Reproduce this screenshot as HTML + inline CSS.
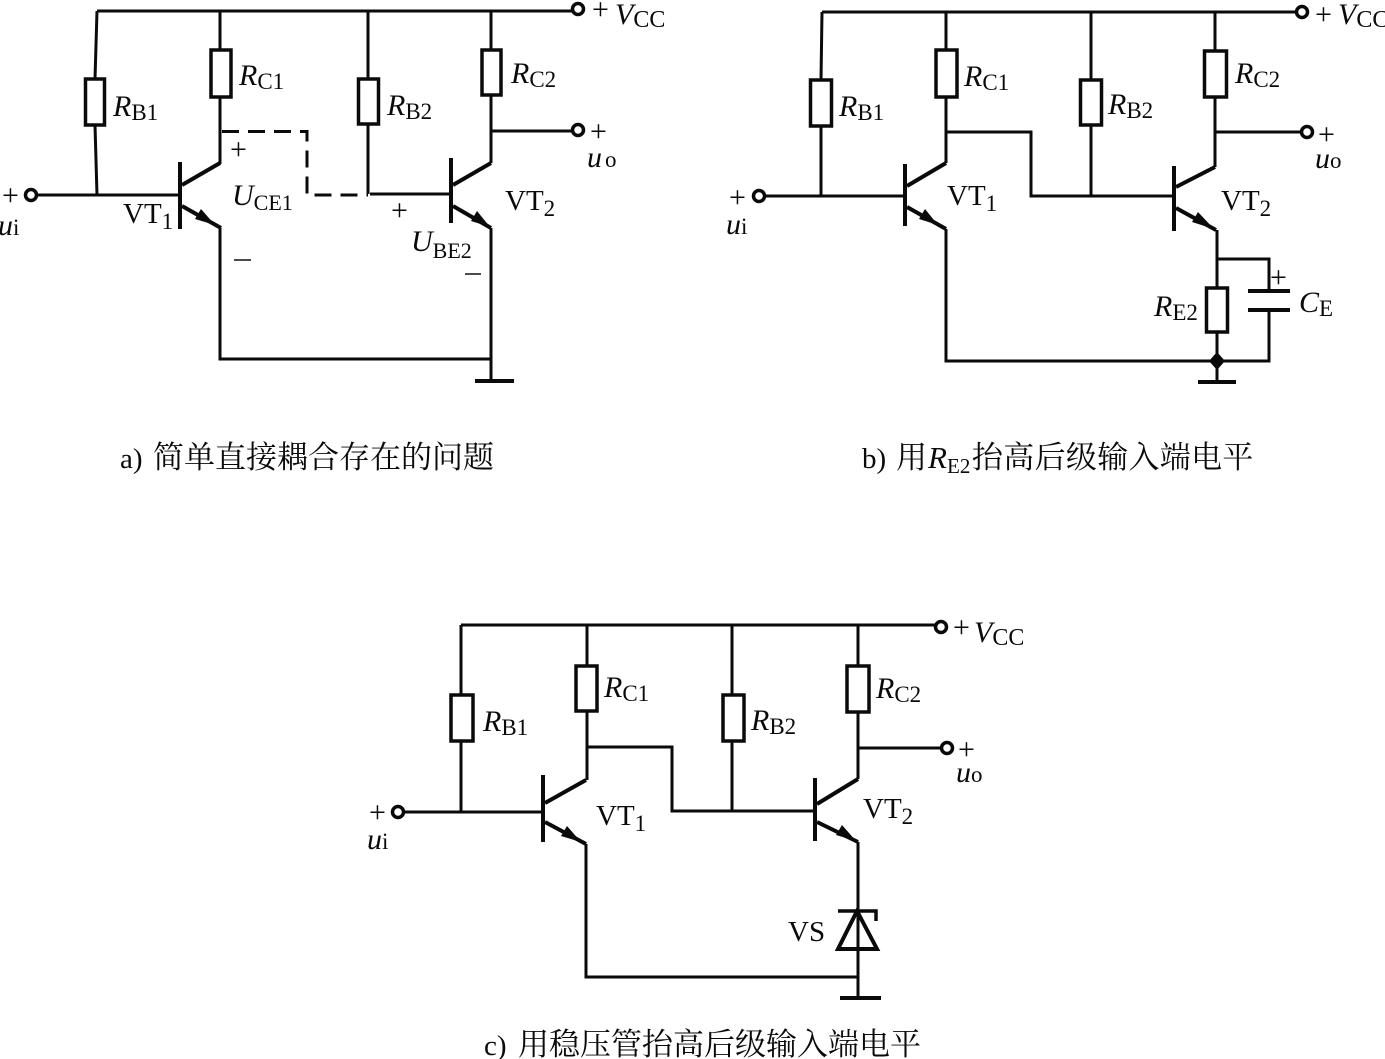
<!DOCTYPE html>
<html>
<head>
<meta charset="utf-8">
<style>
html,body{margin:0;padding:0;background:#fff;width:1385px;height:1059px;overflow:hidden}
svg{display:block}
.w{fill:none;stroke:#0a0a0a;stroke-width:3;stroke-linejoin:miter}
.t{fill:none;stroke:#0a0a0a;stroke-width:4}
.r{fill:#fff;stroke:#0a0a0a;stroke-width:3.5}
.c{fill:#fff;stroke:#0a0a0a;stroke-width:3.5}
.a{fill:#0a0a0a;stroke:none}
text{font-family:"Liberation Serif","Noto Serif CJK SC",serif;fill:#0a0a0a}
.l{font-size:30px}
.i{font-style:italic}
.s{font-size:23px;font-style:normal}
.u{font-size:22px;font-style:normal}
.v{font-size:29px}
.cc{font-size:24px;font-style:normal}
.p{font-size:30px}
.cap{font-size:31px}
.lat{font-size:29px}
</style>
</head>
<body>
<svg width="1385" height="1059" viewBox="0 0 1385 1059" xmlns="http://www.w3.org/2000/svg">
<!-- Panel a -->
<g>
<path class="w" d="M97 11H574M97 11L95 79M95 125L97 195M220 11V50M220 97V164M368 11V79M368 124V194M491 11V50M491 95V163M491 131H573M36 195H180M220 228V359H491M491 228V380"/>
<path class="w" d="M370 194H450"/>
<path class="w" stroke-dasharray="17 9" d="M222 131.500H307V195H368"/>
<path class="t" d="M180 162V229M182 185L220 163M182 206L221 228M451 158V223M453 185L491 163M453 206L491 228"/>
<path class="a" d="M215 225L195 219L201 209Z"/>
<path class="a" d="M490 227L471 221L477 211Z"/>
<path class="t" d="M475 381H514"/>
<rect class="r" x="85.500" y="79" width="19" height="46"/>
<rect class="r" x="211" y="50" width="20" height="47"/>
<rect class="r" x="358.500" y="79" width="20" height="45"/>
<rect class="r" x="482" y="50" width="19" height="45"/>
<circle class="c" cx="31" cy="195" r="5.500"/>
<circle class="c" cx="578" cy="9" r="5.500"/>
<circle class="c" cx="578" cy="130" r="5.500"/>
<text class="p" x="2" y="205">+</text>
<text class="l i" x="-2" y="235">u<tspan class="s">i</tspan></text>
<text class="p" x="592" y="19">+</text>
<text class="l i" x="615" y="24" font-size="32">V<tspan class="cc" dy="3">CC</tspan></text>
<text class="p" x="590" y="141">+</text>
<text class="l i" x="587" y="167">u<tspan class="s" dx="3">o</tspan></text>
<text class="l i" x="113" y="116">R<tspan class="s" dy="4">B1</tspan></text>
<text class="l i" x="239" y="85">R<tspan class="s" dy="4">C1</tspan></text>
<text class="l i" x="387" y="115">R<tspan class="s" dy="4">B2</tspan></text>
<text class="l i" x="511" y="83">R<tspan class="s" dy="4">C2</tspan></text>
<text class="v" x="123" y="223">VT<tspan class="s" dy="6">1</tspan></text>
<text class="v" x="505" y="210">VT<tspan class="s" dy="6">2</tspan></text>
<text class="l i" x="232" y="205">U<tspan class="u" dy="5">CE1</tspan></text>
<text class="l i" x="411" y="251">U<tspan class="u" dy="7">BE2</tspan></text>
<text class="p" x="230" y="159">+</text>
<text class="p" x="391" y="220">+</text>
<path d="M234 260H251M465 274H481" stroke="#111" stroke-width="1.500" fill="none"/>
<text class="cap" y="468"><tspan class="lat" x="120">a)</tspan><tspan x="153">简单直接耦合存在的问题</tspan></text>
</g>
<!-- Panel b -->
<g>
<path class="w" d="M822 12H1298M822 12L821 80M821 126V196M946 12V50M946 97V163M1091 12V80M1091 125V196M1215 12V51M1215 97V167M1215 132H1302M764 196H905M946 229V361H1269V310M946 132H1031V196H1174M1217 230V382M1217 259H1269V291"/>
<path class="t" d="M905 164V226M907 186L946 163M907 207L946 229M1174 166V231M1176 187L1215 167M1176 208L1216 230"/>
<path class="a" d="M938 225L919 219L925 209Z"/>
<path class="a" d="M1214 229L1192 222L1198 212Z"/>
<path class="t" d="M1198 382H1236M1248 291H1290M1248 310H1290"/>
<rect class="r" x="810.500" y="80" width="21" height="46"/>
<rect class="r" x="936" y="50" width="21" height="47"/>
<rect class="r" x="1080.500" y="80" width="21" height="45"/>
<rect class="r" x="1204.500" y="51" width="22" height="46"/>
<rect class="r" x="1206.500" y="288" width="21" height="44"/>
<path class="a" d="M1217 352L1225 361L1217 370L1209 361Z"/>
<circle class="c" cx="759" cy="196" r="5.500"/>
<circle class="c" cx="1302" cy="12" r="5.500"/>
<circle class="c" cx="1307" cy="132" r="5.500"/>
<text class="p" x="729" y="207">+</text>
<text class="l i" x="726" y="234">u<tspan class="s">i</tspan></text>
<text class="p" x="1315" y="24">+</text>
<text class="l i" x="1338" y="24" font-size="32">V<tspan class="cc" dy="3">CC</tspan></text>
<text class="p" x="1318" y="144">+</text>
<text class="l i" x="1315" y="168">u<tspan class="s">o</tspan></text>
<text class="l i" x="839" y="116">R<tspan class="s" dy="4">B1</tspan></text>
<text class="l i" x="964" y="86">R<tspan class="s" dy="4">C1</tspan></text>
<text class="l i" x="1108" y="114">R<tspan class="s" dy="4">B2</tspan></text>
<text class="l i" x="1235" y="83">R<tspan class="s" dy="4">C2</tspan></text>
<text class="l i" x="1154" y="316">R<tspan class="s" dy="4">E2</tspan></text>
<text class="l i" x="1299" y="312">C<tspan class="s" dy="4">E</tspan></text>
<text class="p" x="1270" y="287">+</text>
<text class="v" x="947" y="205">VT<tspan class="s" dy="6">1</tspan></text>
<text class="v" x="1221" y="210">VT<tspan class="s" dy="6">2</tspan></text>
<text class="cap" y="468"><tspan class="lat" x="862">b)</tspan><tspan x="896">用</tspan><tspan class="i" x="928">R</tspan><tspan font-size="21" x="947" dy="5">E2</tspan><tspan x="972" dy="-5" letter-spacing="0.300">抬高后级输入端电平</tspan></text>
</g>
<!-- Panel c -->
<g>
<path class="w" d="M461 625H937M461 625V695M461 741V811M587 625V666M587 711V780M732 625V695M732 741V811M858 625V666M858 712V779M858 748H944M403 812H543M586 844V977H857M587 747H672V811H815M858 842V998"/>
<path class="t" d="M543 775V842M545 803L586 780M545 822L586 844M815 778V841M817 804L858 779M817 822L858 842"/>
<path class="a" d="M581 842L561 836L567 826Z"/>
<path class="a" d="M856 841L836 835L842 825Z"/>
<path class="t" d="M840 998H881"/>
<path d="M857 911L838 949H877Z" fill="none" stroke="#0a0a0a" stroke-width="4"/>
<path d="M838 911H876V921" fill="none" stroke="#0a0a0a" stroke-width="3.500"/>
<rect class="r" x="451" y="695" width="22" height="46"/>
<rect class="r" x="576" y="666" width="21" height="45"/>
<rect class="r" x="723" y="695" width="21" height="46"/>
<rect class="r" x="847" y="666" width="22" height="46"/>
<circle class="c" cx="398" cy="812" r="5.500"/>
<circle class="c" cx="941" cy="627" r="5.500"/>
<circle class="c" cx="947" cy="748" r="5.500"/>
<text class="p" x="369" y="822">+</text>
<text class="l i" x="367" y="849">u<tspan class="s">i</tspan></text>
<text class="p" x="953" y="637">+</text>
<text class="l i" x="974" y="642" font-size="32">V<tspan class="cc" dy="3">CC</tspan></text>
<text class="p" x="958" y="759">+</text>
<text class="l i" x="956" y="782">u<tspan class="s">o</tspan></text>
<text class="l i" x="483" y="731">R<tspan class="s" dy="4">B1</tspan></text>
<text class="l i" x="604" y="697">R<tspan class="s" dy="4">C1</tspan></text>
<text class="l i" x="751" y="730">R<tspan class="s" dy="4">B2</tspan></text>
<text class="l i" x="876" y="698">R<tspan class="s" dy="4">C2</tspan></text>
<text class="v" x="596" y="825">VT<tspan class="s" dy="6">1</tspan></text>
<text class="v" x="863" y="818">VT<tspan class="s" dy="6">2</tspan></text>
<text x="788" y="941" font-size="29">VS</text>
<text class="cap" y="1055"><tspan class="lat" x="484">c)</tspan><tspan x="518">用稳压管抬高后级输入端电平</tspan></text>
</g>
</svg>
</body>
</html>
